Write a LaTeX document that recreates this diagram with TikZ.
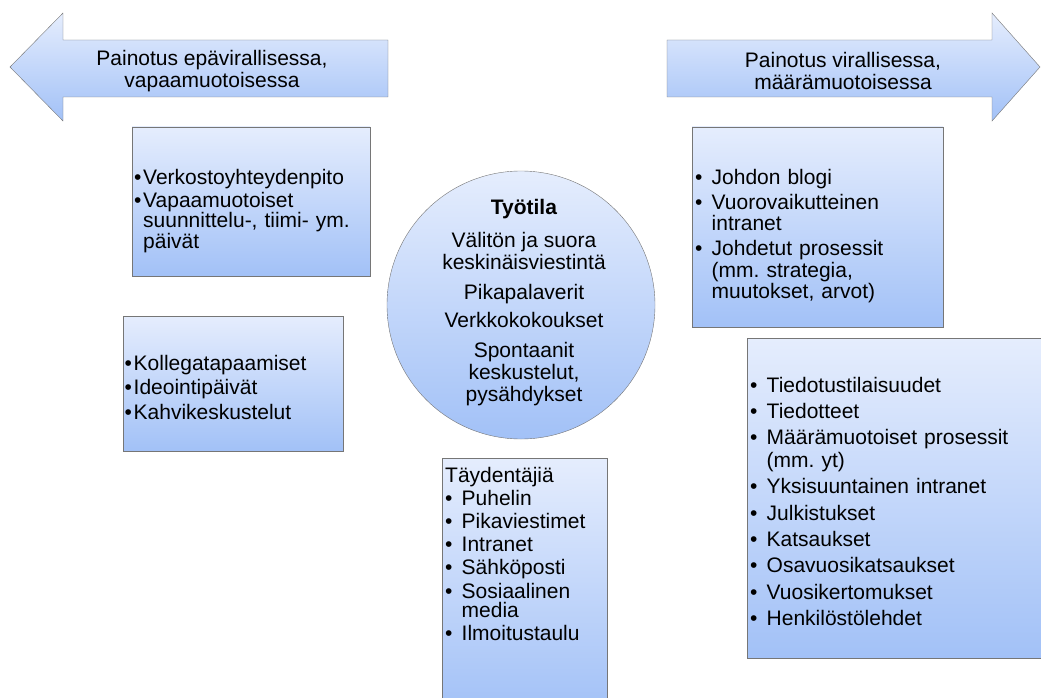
\documentclass[tikz,border=0pt]{standalone}
\usepackage{fontspec}
\setmainfont{Liberation Sans}

\definecolor{paletop}{RGB}{229,237,253}
\definecolor{palebottom}{RGB}{162,193,247}
\definecolor{edgegray}{RGB}{118,118,118}

\newlength{\itmgap}
\setlength{\itmgap}{16.5pt}
\newcommand{\itm}[1]{\hangindent=\itmgap\hangafter=1\noindent\makebox[\itmgap][l]{•}#1\par}
\newcommand{\listfont}[2]{\fontsize{21}{#1}\selectfont\frenchspacing\setlength{\parskip}{#2}}

\tikzset{
	panel/.style={draw=edgegray, top color=paletop, bottom color=palebottom},
	listtext/.style={anchor=base west, inner sep=0pt, align=left},
	tightlist/.style={execute at begin node={\setlength{\itmgap}{9pt}}},
	plaintext/.style={align=center, font=\fontsize{21}{22}\selectfont}
}

\begin{document}
\begin{tikzpicture}[x=1pt, y=-1pt]
		\clip (0, 0) rectangle (1041, 698);
		%%
		\draw[panel] (10, 67) -- (63, 13) -- (63, 40) -- (388, 40) -- (388, 97) -- (63, 97) -- (63, 121) -- cycle;
		\node[plaintext] (epavir) at (212, 71) {Painotus epävirallisessa,\\vapaamuotoisessa};
		%%
		\draw[panel] (1040, 67) -- (992, 13) -- (992, 40) -- (667, 40) -- (667, 97) -- (992, 97) -- (992, 121) -- cycle;
		\node[plaintext] (viral) at (843, 71) {Painotus virallisessa,\\määrämuotoisessa};
		%%
		\shade[panel] (132, 127) rectangle (370, 276);
		\node[listtext, tightlist, text width=232, font=\listfont{20.5}{2.5pt}] (verkosto) at (134, 184)
			{\itm{Verkostoyhteydenpito}\itm{Vapaamuotoiset\newline suunnittelu-, tiimi- ym.\newline päivät}};
		\shade[panel] (123, 316) rectangle (343, 451);
		\node[listtext, tightlist, text width=215, font=\listfont{21}{3.5pt}] (kollega) at (124.5, 370)
			{\itm{Kollegatapaamiset}\itm{Ideointipäivät}\itm{Kahvikeskustelut}};
		%%
		\shade[panel] (521, 305) circle[radius=134];
		\node[plaintext] (tyotila) at (524, 303)
			{\textbf{Työtila}\\[11pt]Välitön ja suora\\keskinäisviestintä\\[8pt]Pikapalaverit\\[6pt]Verkkokokoukset\\[8pt]Spontaanit\\keskustelut,\\pysähdykset};
		%%
		\shade[panel] (442, 458) rectangle (607, 712);
		\node[listtext, text width=158, font=\listfont{19.5}{3.3pt}] (taydent) at (445, 482)
			{\noindent Täydentäjiä\par\itm{Puhelin}\itm{Pikaviestimet}\itm{Intranet}\itm{Sähköposti}\itm{Sosiaalinen\newline media}\itm{Ilmoitustaulu}};
		%%
		\shade[panel] (692, 127) rectangle (943, 327);
		\node[listtext, text width=244, font=\listfont{21.5}{3.5pt}] (johdon) at (695, 184)
			{\itm{Johdon blogi}\itm{Vuorovaikutteinen\newline intranet}\itm{Johdetut prosessit\newline (mm. strategia,\newline muutokset, arvot)}};
		\shade[panel] (747, 338) rectangle (1057, 658);
		\node[listtext, text width=300, font=\listfont{23}{3.3pt}] (tiedotus) at (750, 392)
			{\itm{Tiedotustilaisuudet}\itm{Tiedotteet}\itm{Määrämuotoiset prosessit\newline (mm. yt)}\itm{Yksisuuntainen intranet}\itm{Julkistukset}\itm{Katsaukset}\itm{Osavuosikatsaukset}\itm{Vuosikertomukset}\itm{Henkilöstölehdet}};
	\end{tikzpicture}
\end{document}
